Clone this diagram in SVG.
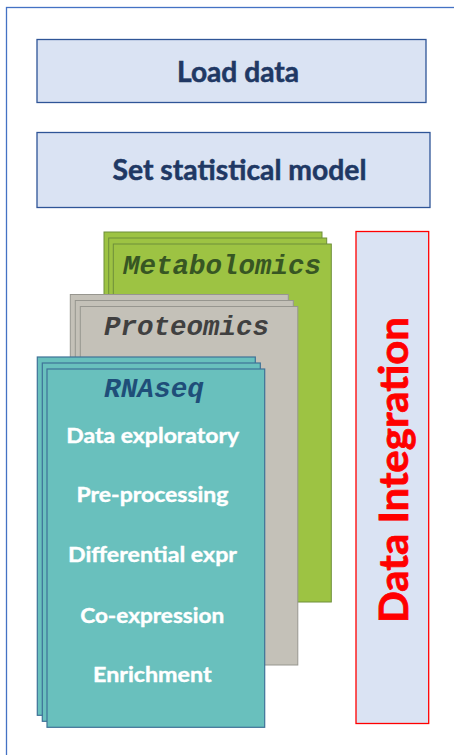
<svg xmlns="http://www.w3.org/2000/svg" width="454" height="755" viewBox="0 0 454 755">
<defs>
<style>
.step rect{fill:#DAE3F3;stroke:#2F5597;stroke-width:1.3}
.step text{font-family:Lato,"Open Sans","Noto Sans",sans-serif;font-weight:bold;font-size:28px;fill:#203864;stroke:#203864;stroke-width:0.5;text-anchor:middle}
.green rect{fill:#9DC343;stroke:#6E8F3A;stroke-width:1}
.gray rect{fill:#C4C1B8;stroke:#97968F;stroke-width:1}
.teal rect{fill:#69C0BD;stroke:#3E7297;stroke-width:1.2}
.omic{font-family:"Liberation Mono","Courier New",monospace;font-weight:bold;font-style:italic;font-size:28px;text-anchor:middle}
.item{font-family:Lato,"Open Sans","Noto Sans",sans-serif;font-weight:bold;font-size:21px;fill:#FFFFFF;stroke:#FFFFFF;stroke-width:0.4;text-anchor:middle}
</style>
</defs>
<rect x="6.5" y="7.5" width="460" height="760" fill="#FFFFFF" stroke="#4472C4" stroke-width="1.3"/>
<g id="load-data" class="step">
<rect x="37" y="39.5" width="389" height="63"/>
<text x="238" y="81.5" textLength="122" lengthAdjust="spacingAndGlyphs">Load data</text>
</g>
<g id="set-model" class="step">
<rect x="37" y="132.5" width="393" height="75"/>
<text x="239.5" y="180" textLength="254" lengthAdjust="spacingAndGlyphs">Set statistical model</text>
</g>
<g id="metabolomics" class="green">
<rect x="104" y="232" width="218" height="358"/>
<rect x="108.7" y="238" width="218" height="358"/>
<rect x="113.3" y="244" width="218" height="358"/>
<text class="omic" x="222" y="273.5" fill="#375623" textLength="198" lengthAdjust="spacingAndGlyphs">Metabolomics</text>
</g>
<g id="proteomics" class="gray">
<rect x="70.3" y="294.5" width="218" height="358.5"/>
<rect x="75.3" y="300.5" width="218" height="358.5"/>
<rect x="80.3" y="306.5" width="217.5" height="358.5"/>
<text class="omic" x="186.5" y="335" fill="#404040" textLength="165" lengthAdjust="spacingAndGlyphs">Proteomics</text>
</g>
<g id="rnaseq" class="teal">
<rect x="37.3" y="357" width="218" height="358.3"/>
<rect x="42.3" y="363" width="218" height="358.3"/>
<rect x="47" y="369" width="217.7" height="358.3"/>
<text class="omic" x="154" y="396.5" fill="#1F4E79" textLength="100" lengthAdjust="spacingAndGlyphs">RNAseq</text>
<text class="item" x="152.7" y="443.3" textLength="173" lengthAdjust="spacingAndGlyphs">Data exploratory</text>
<text class="item" x="152.5" y="502" textLength="152" lengthAdjust="spacingAndGlyphs">Pre-processing</text>
<text class="item" x="152.5" y="562" textLength="169" lengthAdjust="spacingAndGlyphs">Differential expr</text>
<text class="item" x="152.2" y="622.5" textLength="144" lengthAdjust="spacingAndGlyphs">Co-expression</text>
<text class="item" x="152.3" y="682.3" textLength="118.5" lengthAdjust="spacingAndGlyphs">Enrichment</text>
</g>
<g id="data-integration">
<rect x="356" y="231.5" width="72.7" height="492" fill="#DAE3F3" stroke="#FF0000" stroke-width="1.3"/>
<text transform="translate(408.3,470) rotate(-90)" x="0" y="0" font-family="Lato,'Open Sans','Noto Sans',sans-serif" font-weight="bold" font-size="41" fill="#FF0000" stroke="#FF0000" stroke-width="0.8" text-anchor="middle" textLength="306" lengthAdjust="spacingAndGlyphs">Data Integration</text>
</g>
<g id="connectors"/>
</svg>
